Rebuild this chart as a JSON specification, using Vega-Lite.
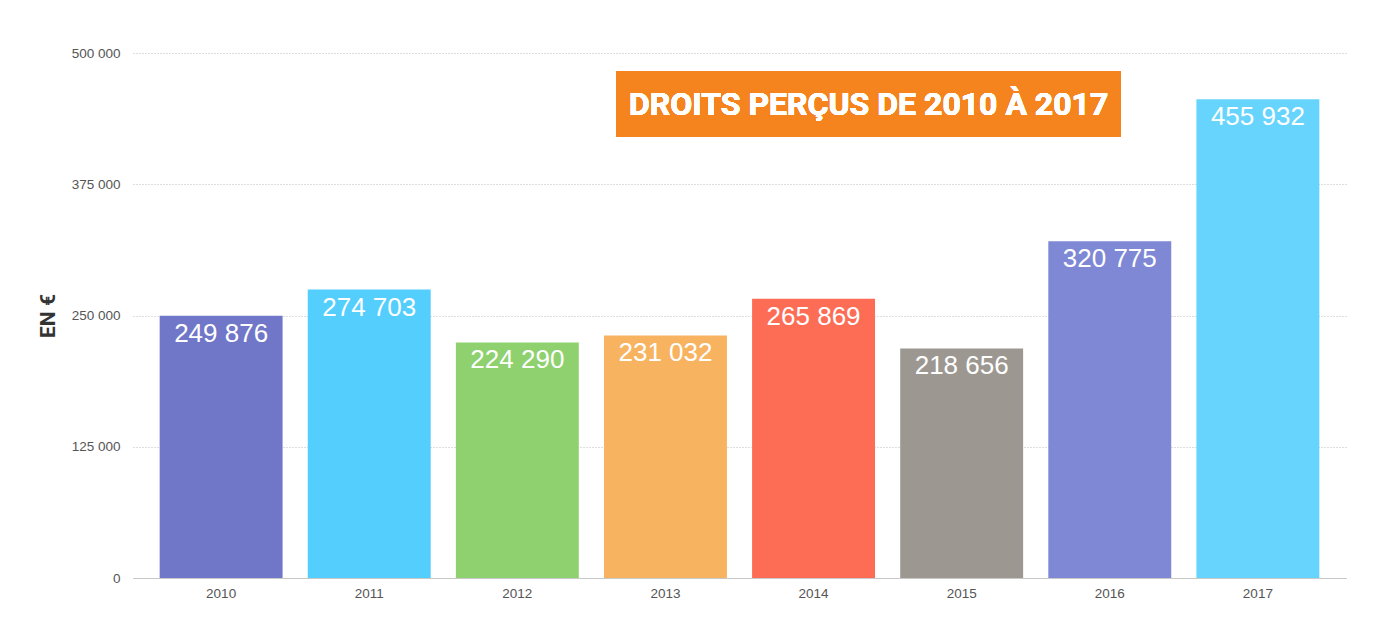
{
  "$schema": "https://vega.github.io/schema/vega-lite/v6.json",
  "width": 1213,
  "height": 525,
  "autosize": {"type": "none"},
  "padding": {"left": 133, "top": 53, "right": 49, "bottom": 59},
  "background": "white",
  "config": {
    "view": {"stroke": null},
    "locale": {"number": {"decimal": ",", "thousands": " ", "grouping": [3], "currency": ["", " €"]}}
  },
  "data": {
    "values": [
      {"year": "2010", "value": 249876},
      {"year": "2011", "value": 274703},
      {"year": "2012", "value": 224290},
      {"year": "2013", "value": 231032},
      {"year": "2014", "value": 265869},
      {"year": "2015", "value": 218656},
      {"year": "2016", "value": 320775},
      {"year": "2017", "value": 455932}
    ]
  },
  "encoding": {
    "x": {
      "field": "year", "type": "nominal", "sort": null,
      "scale": {"paddingInner": 0.17, "paddingOuter": 0.18},
      "axis": {
        "title": null, "labelAngle": 0, "ticks": false, "labelPadding": 8,
        "labelFont": "Liberation Sans", "labelFontSize": 13.5, "labelColor": "#555",
        "domainColor": "#c8c8c8", "domainWidth": 1
      }
    },
    "y": {
      "field": "value", "type": "quantitative",
      "scale": {"domain": [0, 500000], "nice": false},
      "axis": {
        "title": "EN €", "titleFont": "Roboto", "titleFontWeight": "bold", "titleFontSize": 21,
        "titleColor": "#333", "titlePadding": 13,
        "values": [0, 125000, 250000, 375000, 500000], "format": ",d",
        "domain": false, "ticks": false, "labelPadding": 13,
        "labelFont": "Liberation Sans", "labelFontSize": 13.5, "labelColor": "#555",
        "gridColor": "#bdbdbd", "gridDash": [1, 2], "gridWidth": 1
      }
    }
  },
  "layer": [
    {
      "mark": {"type": "bar"},
      "encoding": {
        "color": {
          "field": "year", "type": "nominal", "legend": null,
          "scale": {
            "domain": ["2010", "2011", "2012", "2013", "2014", "2015", "2016", "2017"],
            "range": ["#7177c8", "#53cefd", "#8ed16e", "#f8b360", "#fd6d56", "#9c9891", "#7e88d5", "#66d4fc"]
          }
        }
      }
    },
    {
      "mark": {"type": "text", "baseline": "alphabetic", "dy": 26, "color": "white", "font": "Liberation Sans", "fontSize": 26},
      "encoding": {"text": {"field": "value", "type": "quantitative", "format": ",d"}}
    },
    {
      "mark": {"type": "rect", "color": "#f5841f"},
      "encoding": {
        "x": {"datum": "2013", "type": "nominal", "bandPosition": 0.1},
        "x2": {"datum": "2016", "bandPosition": 0.59},
        "y": {"datum": 482857, "type": "quantitative"},
        "y2": {"datum": 420000}
      }
    },
    {
      "mark": {"type": "text", "align": "center", "baseline": "middle", "dy": 1, "color": "white", "font": "Roboto", "fontWeight": "bold", "fontSize": 32, "text": "DROITS PERÇUS DE 2010 À 2017"},
      "encoding": {
        "x": {"datum": "2014", "type": "nominal", "bandPosition": 0.948},
        "y": {"datum": 451429, "type": "quantitative"}
      }
    }
  ]
}
